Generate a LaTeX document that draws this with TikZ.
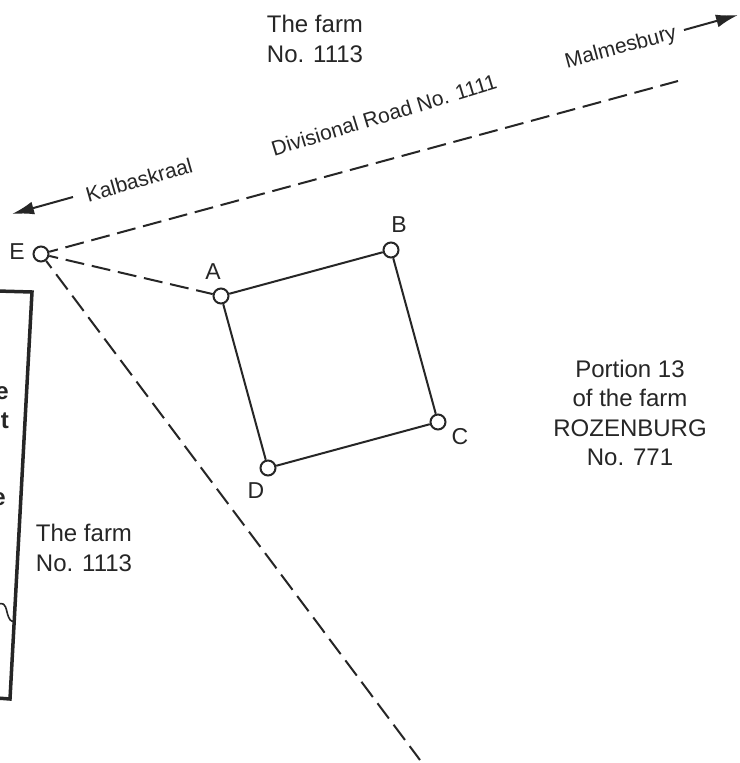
\documentclass[tikz,border=0pt]{standalone}
\usepackage{fontspec}
\setmainfont{Liberation Sans}
\usetikzlibrary{arrows.meta}
\definecolor{ink}{HTML}{262626}
\tikzset{
  peg/.style={circle,draw=ink,line width=2pt,fill=white,minimum size=15pt,inner sep=0pt},
  side/.style={draw=ink,line width=2pt},
  fence/.style={draw=ink,line width=2pt,dash pattern=on 19pt off 7.8pt,dash phase=10pt},
  lbl/.style={text=ink,font=\fontsize{23}{23}\selectfont,inner sep=0pt},
  big/.style={text=ink,font=\fontsize{24}{29.5}\selectfont,align=center,inner sep=0pt},
  small/.style={text=ink,font=\fontsize{21}{24}\selectfont,inner sep=0pt},
  boldbit/.style={text=ink,font=\fontsize{24}{24}\selectfont\bfseries,inner sep=0pt,anchor=base east},
  road/.style={draw=ink,line width=2pt,-{Latex[length=22pt,width=13pt]}}
}
\begin{document}
\begin{tikzpicture}[x=1pt,y=-1pt]
\useasboundingbox[fill=white] (0,0) rectangle (739,763);
\coordinate (roadend) at (678,81);
\coordinate (fenceend) at (420,760);
\coordinate (kalstart) at (73,197);
\coordinate (kalend) at (12,214);
\coordinate (malstart) at (684,30);
\coordinate (malend) at (738,15);
\node[peg] (E) at (41,254) {};
\node[peg] (A) at (221,296) {};
\node[peg] (B) at (391,250) {};
\node[peg] (C) at (438,422) {};
\node[peg] (D) at (268,468) {};
\draw[fence] (E) -- (roadend);
\draw[fence] (E) -- (A);
\draw[fence] (E) -- (fenceend);
\draw[side] (A) -- (B);
\draw[side] (B) -- (C);
\draw[side] (C) -- (D);
\draw[side] (D) -- (A);
\draw[road] (kalstart) -- (kalend);
\draw[road] (malstart) -- (malend);
\node[lbl] (le) at (17,252) {E};
\node[lbl] (la) at (213,272) {A};
\node[lbl] (lb) at (399,225) {B};
\node[lbl] (lc) at (460,437) {C};
\node[lbl] (ld) at (256,491) {D};
\node[big] (farmtop) at (315,39) {The farm\\No. 1113};
\node[big] (farmleft) at (84,548) {The farm\\No. 1113};
\node[big] (portion) at (630,413) {Portion 13\\of the farm\\ROZENBURG\\No. 771};
\node[small,rotate=16] (kal) at (139,180) {Kalbaskraal};
\node[small,rotate=17] (div) at (384,115) {Divisional Road No. 1111};
\node[small,rotate=15] (mal) at (621,48) {Malmesbury};
\draw[draw=ink,line width=3.5pt,line join=miter] (-3,291) -- (32,292) -- (10,699) -- (-3,698);
\draw[draw=ink,line width=1.6pt] (-2,604) .. controls (3,603) and (5,603) .. (7,612) .. controls (9,620) and (11,622) .. (14,621);
\node[boldbit] (b1) at (9,399) {e};
\node[boldbit] (b2) at (9,428) {t};
\node[boldbit] (b3) at (6,505) {e};
\end{tikzpicture}
\end{document}
